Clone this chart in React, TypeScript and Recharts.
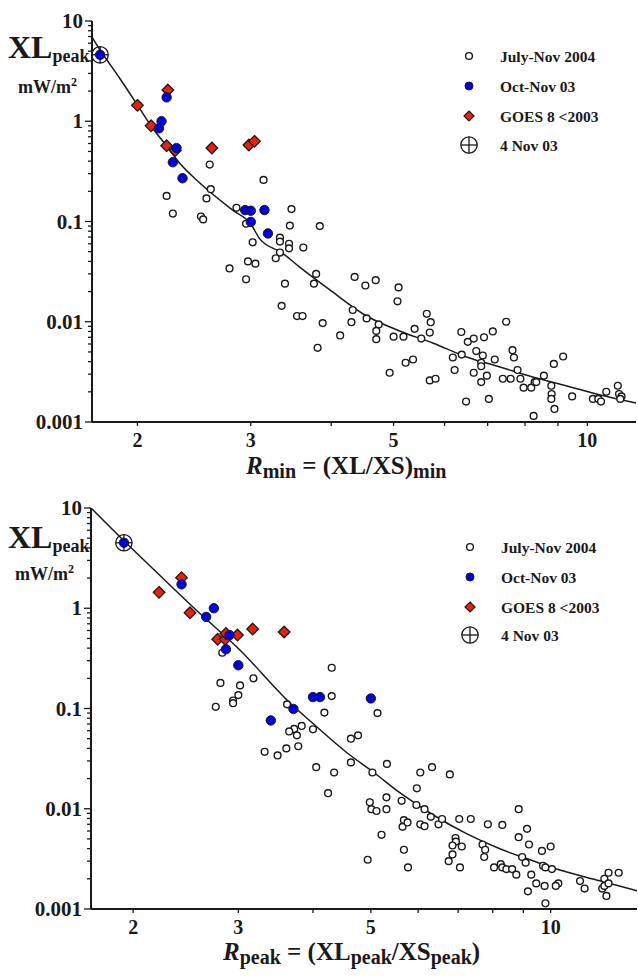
import React from 'react';
import { ComposedChart, Scatter, Line, XAxis, YAxis } from 'recharts';

// [R, XL] pairs
const topJulyNov2004: [number, number][] = [
  [2.59, 0.37], [2.22, 0.18], [2.27, 0.12], [2.6, 0.21], [2.56, 0.17], [2.51, 0.112], [2.53, 0.105],
  [2.85, 0.137], [3.14, 0.26], [3.47, 0.133], [3.45, 0.091], [2.95, 0.095], [3.84, 0.09], [3.02, 0.062],
  [3.33, 0.069], [3.33, 0.063], [3.44, 0.06], [3.44, 0.054], [3.62, 0.055], [3.33, 0.049], [3.28, 0.043],
  [2.97, 0.04], [3.05, 0.038], [2.78, 0.034], [2.95, 0.0265], [3.39, 0.024], [3.79, 0.03], [3.76, 0.024],
  [4.35, 0.028], [4.52, 0.023], [4.69, 0.026], [5.09, 0.022], [5.07, 0.016], [3.35, 0.0144], [3.54, 0.0114],
  [3.61, 0.0114], [3.81, 0.0055], [3.88, 0.0097], [4.32, 0.0131], [4.3, 0.0099], [4.54, 0.0108], [4.74, 0.0094],
  [4.7, 0.0081], [4.7, 0.0067], [4.13, 0.0073], [5.0, 0.0071], [5.18, 0.0071], [5.39, 0.0085], [5.52, 0.0068],
  [5.63, 0.012], [5.71, 0.0099], [5.69, 0.0078], [5.22, 0.0039], [5.36, 0.0042], [4.93, 0.0031], [5.69, 0.0026],
  [5.81, 0.0027], [6.37, 0.0079], [6.18, 0.0044], [6.22, 0.0033], [6.38, 0.0047], [6.52, 0.0063], [6.66, 0.0068],
  [6.91, 0.007], [7.13, 0.008], [7.48, 0.01], [6.72, 0.0051], [6.88, 0.0046], [6.84, 0.0039], [6.84, 0.0036],
  [6.66, 0.0031], [6.84, 0.0025], [6.98, 0.0029], [7.18, 0.0042], [6.48, 0.0016], [7.03, 0.0017], [7.39, 0.0027],
  [7.6, 0.0027], [7.65, 0.0052], [7.69, 0.0044], [7.79, 0.0033], [7.87, 0.0027], [7.96, 0.0022], [8.18, 0.0022],
  [8.28, 0.0025], [8.33, 0.0025], [8.25, 0.00115], [8.56, 0.0029], [8.79, 0.0023], [8.8, 0.0019], [8.79, 0.0017],
  [8.89, 0.00135], [8.87, 0.0038], [9.17, 0.0045], [9.47, 0.0018], [10.2, 0.0017], [10.4, 0.0017], [10.5, 0.0016],
  [10.7, 0.002], [11.15, 0.0023], [11.2, 0.0019], [11.3, 0.0018], [11.25, 0.0017],
];
const topOctNov03: [number, number][] = [
  [1.75, 4.6], [2.22, 1.73], [2.18, 1.0], [2.16, 0.85], [2.3, 0.54], [2.27, 0.39], [2.35, 0.27],
  [2.94, 0.13], [3.0, 0.128], [3.15, 0.13], [3.0, 0.099], [3.19, 0.076],
];
const topGoes8: [number, number][] = [
  [2.0, 1.44], [2.23, 2.05], [2.1, 0.9], [2.22, 0.57], [2.29, 0.51], [2.61, 0.54], [2.98, 0.58], [3.04, 0.63],
];
const top4Nov03: [number, number][] = [[1.75, 4.6]];
const topFitR = [1.7, 1.746, 1.876, 2.0, 2.1, 2.22, 2.325, 2.5, 2.81, 3.0, 3.1, 3.36, 3.57, 4.0, 4.54, 5.11, 5.75, 6.49, 7.31, 8.22, 9.29, 10.47, 11.9];
const topFitXL = [6.92, 5.26, 2.7, 1.45, 0.897, 0.566, 0.383, 0.242, 0.13, 0.0944, 0.0667, 0.0484, 0.0352, 0.0203, 0.01141, 0.00809, 0.00614, 0.00445, 0.00354, 0.00281, 0.00229, 0.00186, 0.00155];

const botJulyNov2004: [number, number][] = [
  [2.82, 0.36], [2.8, 0.18], [3.02, 0.17], [3.18, 0.2], [3.0, 0.136], [2.94, 0.12], [2.94, 0.113], [2.75, 0.104],
  [3.62, 0.11], [4.3, 0.255], [4.3, 0.133], [4.18, 0.091], [5.13, 0.09], [3.83, 0.067], [3.72, 0.0625], [4.0, 0.062],
  [3.65, 0.059], [3.76, 0.054], [4.76, 0.054], [4.63, 0.05], [3.78, 0.042], [3.61, 0.04], [3.32, 0.037], [3.49, 0.034],
  [4.05, 0.026], [4.34, 0.023], [4.63, 0.029], [5.03, 0.023], [5.32, 0.028], [6.05, 0.023], [4.24, 0.0143],
  [4.98, 0.0116], [5.01, 0.0099], [5.11, 0.0095], [5.21, 0.0055], [4.94, 0.0031], [5.31, 0.013], [5.31, 0.0099],
  [5.63, 0.012], [5.68, 0.0077], [5.65, 0.0066], [5.76, 0.0073], [5.68, 0.0039], [5.77, 0.0026], [5.97, 0.016],
  [6.33, 0.026], [5.96, 0.0109], [6.15, 0.0099], [6.05, 0.007], [6.15, 0.0067], [6.3, 0.0083], [6.49, 0.007],
  [6.58, 0.0079], [6.78, 0.022], [6.93, 0.0051], [6.94, 0.0047], [6.85, 0.0043], [6.85, 0.0035], [6.75, 0.003],
  [7.1, 0.0042], [7.05, 0.0026], [7.03, 0.0079], [7.35, 0.0079], [7.85, 0.007], [7.69, 0.0044], [7.77, 0.0039],
  [7.74, 0.0033], [8.04, 0.0026], [8.25, 0.0028], [8.3, 0.0026], [8.43, 0.0025], [8.62, 0.0025], [8.76, 0.0022],
  [8.3, 0.0069], [8.84, 0.0099], [8.84, 0.0052], [9.13, 0.0063], [9.2, 0.0044], [8.96, 0.0033], [9.08, 0.0029],
  [9.28, 0.0022], [9.16, 0.0015], [9.46, 0.0018], [9.77, 0.0017], [9.8, 0.00114], [9.67, 0.0038], [10.0, 0.0042],
  [9.71, 0.0027], [9.8, 0.0026], [10.05, 0.0025], [10.3, 0.0018], [10.2, 0.0017], [11.2, 0.0019], [11.4, 0.0016],
  [12.2, 0.0016], [12.3, 0.0017], [12.4, 0.00135], [12.3, 0.002], [12.5, 0.0018], [12.5, 0.0023], [13.0, 0.0023],
];
const botOctNov03: [number, number][] = [
  [1.93, 4.5], [2.41, 1.73], [2.65, 0.82], [2.73, 1.0], [2.9, 0.54], [2.86, 0.39], [3.0, 0.27],
  [3.71, 0.099], [3.4, 0.076], [4.0, 0.13], [4.11, 0.13], [5.0, 0.126],
];
const botGoes8: [number, number][] = [
  [2.21, 1.44], [2.41, 2.02], [2.49, 0.9], [2.77, 0.49], [2.85, 0.49], [2.86, 0.56], [2.99, 0.54], [3.17, 0.62], [3.58, 0.58],
];
const bot4Nov03: [number, number][] = [[1.93, 4.5]];
const botFitR = [1.7, 1.93, 2.22, 2.59, 2.98, 3.7, 4.0, 4.56, 5.04, 5.59, 6.35, 7.23, 8.22, 9.33, 10.08, 12.09, 13.95];
const botFitXL = [10.0, 4.71, 2.11, 0.881, 0.413, 0.107, 0.0709, 0.0362, 0.0234, 0.01445, 0.00871, 0.00564, 0.00399, 0.00303, 0.00258, 0.00191, 0.00152];

const X_TICKS = [2, 3, 4, 5, 6, 7, 8, 9, 10];
const X_LABELED = [2, 3, 5, 10];
const Y_MAJOR = [0.001, 0.01, 0.1, 1, 10];
const DECADES = [0.001, 0.01, 0.1, 1];
const MANTISSAS = [1, 2, 3, 4, 5, 6, 7, 8, 9];
const Y_TICKS = [...DECADES.flatMap((d) => MANTISSAS.map((m) => d * m)), 10];
const LEGEND = ['July-Nov 2004', 'Oct-Nov 03', 'GOES 8 <2003', '4 Nov 03'];

const FONT = '"Liberation Serif", "Times New Roman", serif';
const INK = '#1a1a1a';

const pts = (a: [number, number][]) => a.map(([r, xl]) => ({ r, xl }));
const fit = (rs: number[], xls: number[]) => rs.map((r, i) => ({ r, xl: xls[i] }));

const OpenDot = ({ cx, cy }: any) => <circle cx={cx} cy={cy} r={3.4} fill="#fff" stroke={INK} strokeWidth={1.4} />;
const BlueDot = ({ cx, cy }: any) => <circle cx={cx} cy={cy} r={4.7} fill="#0000e0" stroke={INK} strokeWidth={1} />;
const RedDiamond = ({ cx, cy }: any) => {
  const s = 5.8;
  return <polygon points={`${cx},${cy - s} ${cx + s},${cy} ${cx},${cy + s} ${cx - s},${cy}`} fill="#e8200c" stroke={INK} strokeWidth={1.3} />;
};
const CrossCircle = ({ cx, cy }: any) => {
  const r = 8.2;
  return (
    <g stroke={INK} strokeWidth={1.3} fill="none">
      <circle cx={cx} cy={cy} r={r} />
      <line x1={cx - r} x2={cx + r} y1={cy} y2={cy} />
      <line x1={cx} x2={cx} y1={cy - r} y2={cy + r} />
    </g>
  );
};

const YTick = ({ x, y, payload }: any) => {
  const major = Y_MAJOR.includes(payload.value);
  return (
    <g>
      <line x1={x - (major ? 7 : 4)} x2={x} y1={y} y2={y} stroke={INK} strokeWidth={1.3} />
      {major && (
        <text x={x - 9} y={y} textAnchor="end" dominantBaseline="central" fontFamily={FONT} fontWeight="bold" fontSize={21} fill={INK}>
          {String(payload.value)}
        </text>
      )}
    </g>
  );
};
const XTickBottom = ({ x, y, payload }: any) => (
  <g>
    <line x1={x} x2={x} y1={y} y2={y + 4} stroke={INK} strokeWidth={1.3} />
    {X_LABELED.includes(payload.value) && (
      <text x={x} y={y + 18} textAnchor="middle" dominantBaseline="central" fontFamily={FONT} fontWeight="bold" fontSize={20} fill={INK}>
        {payload.value}
      </text>
    )}
  </g>
);
const XTickTop = ({ x, y }: any) => <line x1={x} x2={x} y1={y} y2={y - 4} stroke={INK} strokeWidth={1.3} />;

function Panel({ open, blue, red, cross, fitData, xMax, left, right, top, bottom }: any) {
  return (
    <ComposedChart width={638} height={488} margin={{ top, right, bottom, left: 0 }}>
      <XAxis xAxisId={0} type="number" dataKey="r" scale="log" domain={[1.7, xMax]} allowDataOverflow ticks={X_TICKS}
        interval={0} tickSize={0} tickMargin={0} tick={<XTickBottom />} height={30} axisLine={{ stroke: INK, strokeWidth: 2 }} />
      <XAxis xAxisId="top" orientation="top" type="number" dataKey="r" scale="log" domain={[1.7, xMax]} allowDataOverflow
        ticks={X_TICKS} interval={0} tickSize={0} tickMargin={0} tick={<XTickTop />} height={0} axisLine={{ stroke: INK, strokeWidth: 1.5 }} />
      <YAxis yAxisId={0} type="number" dataKey="xl" scale="log" domain={[0.001, 10]} allowDataOverflow ticks={Y_TICKS}
        interval={0} tickSize={0} tickMargin={0} tick={<YTick />} width={left} axisLine={{ stroke: INK, strokeWidth: 2 }} />
      <YAxis yAxisId="right" orientation="right" type="number" scale="log" domain={[0.001, 10]} allowDataOverflow
        tick={false} tickLine={false} width={0} axisLine={{ stroke: INK, strokeWidth: 1.5 }} />
      <Line data={fitData} dataKey="xl" type="monotone" stroke={INK} strokeWidth={1.5} dot={false} isAnimationActive={false} />
      <Scatter data={open} shape={OpenDot} isAnimationActive={false} />
      <Scatter data={red} shape={RedDiamond} isAnimationActive={false} />
      <Scatter data={cross} shape={CrossCircle} isAnimationActive={false} />
      <Scatter data={blue} shape={BlueDot} isAnimationActive={false} />
    </ComposedChart>
  );
}

function Legend({ x, ys, tx }: { x: number; ys: number[]; tx: number }) {
  const marks = [
    <OpenDot cx={x} cy={ys[0]} />,
    <circle cx={x} cy={ys[1]} r={4} fill="#0000e0" stroke={INK} strokeWidth={1} />,
    <polygon points={`${x},${ys[2] - 5} ${x + 5},${ys[2]} ${x},${ys[2] + 5} ${x - 5},${ys[2]}`} fill="#e8200c" stroke={INK} strokeWidth={1.2} />,
    <CrossCircle cx={x} cy={ys[3]} />,
  ];
  return (
    <g>
      {LEGEND.map((label, i) => (
        <g key={label}>
          {marks[i]}
          <text x={tx} y={ys[i]} dominantBaseline="central" fontFamily={FONT} fontWeight="bold" fontSize={15.5} fill={INK}>
            {label}
          </text>
        </g>
      ))}
    </g>
  );
}

export default function App() {
  const textProps = { fontFamily: FONT, fontWeight: 'bold' as const, fill: INK };
  return (
    <div style={{ position: 'absolute', left: 0, top: 0, width: 638, height: 976, background: '#fff' }}>
      <div style={{ position: 'absolute', left: 0, top: 0 }}>
        <Panel open={pts(topJulyNov2004)} blue={pts(topOctNov03)} red={pts(topGoes8)} cross={pts(top4Nov03)}
          fitData={fit(topFitR, topFitXL)} xMax={11.9} left={92} right={2} top={21} bottom={36} />
      </div>
      <div style={{ position: 'absolute', left: 0, top: 488 }}>
        <Panel open={pts(botJulyNov2004)} blue={pts(botOctNov03)} red={pts(botGoes8)} cross={pts(bot4Nov03)}
          fitData={fit(botFitR, botFitXL)} xMax={13.95} left={91} right={1} top={20} bottom={37} />
      </div>
      <svg width={638} height={976} style={{ position: 'absolute', left: 0, top: 0, pointerEvents: 'none' }}>
        <text x={8} y={58} fontSize={32} {...textProps}>XL<tspan fontSize={18} dy={4}>peak</tspan></text>
        <text x={18} y={93} fontSize={18} {...textProps}>mW/m<tspan fontSize={12} dy={-7}>2</tspan></text>
        <text x={246} y={474} fontSize={25} {...textProps}>
          <tspan fontStyle="italic">R</tspan>
          <tspan fontSize={20} dy={4}>min</tspan>
          <tspan dy={-4}> = (XL/XS)</tspan>
          <tspan fontSize={20} dy={4}>min</tspan>
        </text>
        <Legend x={469} ys={[56, 86, 116, 145]} tx={500} />

        <text x={8} y={548} fontSize={32} {...textProps}>XL<tspan fontSize={18} dy={4}>peak</tspan></text>
        <text x={15} y={580} fontSize={18} {...textProps}>mW/m<tspan fontSize={12} dy={-7}>2</tspan></text>
        <text x={223} y={960} fontSize={25} {...textProps}>
          <tspan fontStyle="italic">R</tspan>
          <tspan fontSize={20} dy={4}>peak</tspan>
          <tspan dy={-4}> = (XL</tspan>
          <tspan fontSize={20} dy={4}>peak</tspan>
          <tspan dy={-4}>/XS</tspan>
          <tspan fontSize={20} dy={4}>peak</tspan>
          <tspan dy={-4}>)</tspan>
        </text>
        <Legend x={470} ys={[547, 577, 607, 635]} tx={501} />
      </svg>
    </div>
  );
}
